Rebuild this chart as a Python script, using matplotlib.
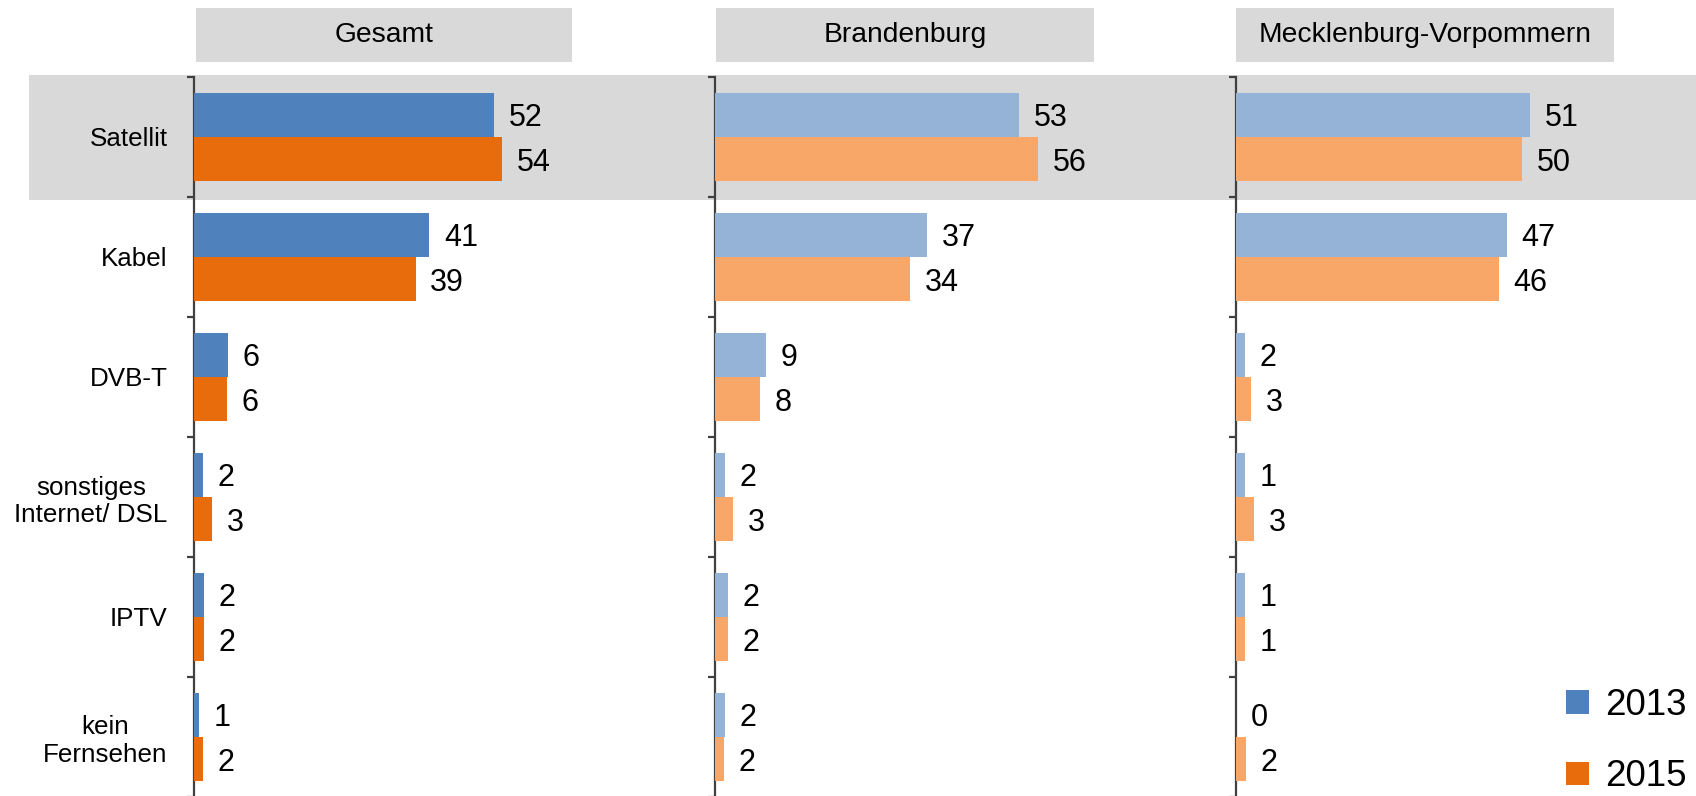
import matplotlib
matplotlib.use("Agg")
import matplotlib.pyplot as plt
from matplotlib.patches import Rectangle
from matplotlib.transforms import blended_transform_factory
import numpy as np

plt.rcParams['font.family'] = ['Liberation Sans', 'DejaVu Sans']

categories = ["Satellit", "Kabel", "DVB-T", "sonstiges\nInternet/ DSL", "IPTV", "kein\nFernsehen"]
panels = ["Gesamt", "Brandenburg", "Mecklenburg-Vorpommern"]
years = ["2013", "2015"]

# bar lengths and the printed labels
gesamt_2013 = [52.3, 41.0, 5.9, 1.5, 1.8, 0.9]
gesamt_2015 = [53.7, 38.6, 5.8, 3.1, 1.8, 1.6]
brb_2013 = [53.0, 37.0, 8.9, 1.7, 2.2, 1.7]
brb_2015 = [56.3, 34.0, 7.9, 3.2, 2.2, 1.6]
mv_2013 = [51.2, 47.2, 1.6, 1.5, 1.5, 0.0]
mv_2015 = [49.8, 45.8, 2.7, 3.1, 1.5, 1.7]

gesamt_lbl_2013 = [52, 41, 6, 2, 2, 1]
gesamt_lbl_2015 = [54, 39, 6, 3, 2, 2]
brb_lbl_2013 = [53, 37, 9, 2, 2, 2]
brb_lbl_2015 = [56, 34, 8, 3, 2, 2]
mv_lbl_2013 = [51, 47, 2, 1, 1, 0]
mv_lbl_2015 = [50, 46, 3, 3, 1, 2]

values = [(gesamt_2013, gesamt_2015), (brb_2013, brb_2015), (mv_2013, mv_2015)]
labels = [(gesamt_lbl_2013, gesamt_lbl_2015), (brb_lbl_2013, brb_lbl_2015), (mv_lbl_2013, mv_lbl_2015)]
colors = [("#4F81BD", "#E96C0C"), ("#95B3D7", "#F9A769"), ("#95B3D7", "#F9A769")]

W, H = 1696, 796
fig = plt.figure(figsize=(W / 100, H / 100), dpi=100)

ax_left_px = [194, 715, 1236]
ax_w_px = 470
px_per_unit = 5.74
top_px, bottom_px = 77, 797
gray = "#D9D9D9"
spine_c = "#404040"

header_boxes = [(196, 572), (716, 1094), (1236, 1614)]

y = np.arange(len(categories))
bh = 0.37
axes = []
for i, (name, (v13, v15), (l13, l15), (c13, c15)) in enumerate(zip(panels, values, labels, colors)):
    ax = fig.add_axes([ax_left_px[i] / W, (H - bottom_px) / H, ax_w_px / W, (bottom_px - top_px) / H])
    ax.patch.set_visible(False)
    b1 = ax.barh(y - bh / 2, v13, height=bh, color=c13, edgecolor="none", label=years[0], zorder=3)
    b2 = ax.barh(y + bh / 2, v15, height=bh, color=c15, edgecolor="none", label=years[1], zorder=3)
    for yy, v, l in zip(y - bh / 2, v13, l13):
        ax.annotate(str(l), (v, yy), xytext=(10.5, 0), textcoords="offset points",
                    ha="left", va="center_baseline", fontsize=22, zorder=4)
    for yy, v, l in zip(y + bh / 2, v15, l15):
        ax.annotate(str(l), (v, yy), xytext=(10.5, 0), textcoords="offset points",
                    ha="left", va="center_baseline", fontsize=22, zorder=4)
    ax.set_xlim(0, ax_w_px / px_per_unit)
    ax.set_ylim(len(categories) - 0.5, -0.5)
    for s in ["top", "right", "bottom"]:
        ax.spines[s].set_visible(False)
    ax.spines["left"].set_color(spine_c)
    ax.spines["left"].set_linewidth(1.6)
    ax.set_xticks([])
    ax.set_yticks(np.arange(-0.5, len(categories) + 0.5, 1.0))
    ax.set_yticklabels([])
    ax.tick_params(axis="y", which="major", length=5, width=1.6, color=spine_c, direction="out")
    if i == 0:
        ax.set_yticks(y, minor=True)
        ax.set_yticklabels(categories, minor=True, fontsize=18.7, multialignment="center")
        ax.tick_params(axis="y", which="minor", length=0, pad=19)
    axes.append((ax, b1, b2))

    # header box
    x0, x1 = header_boxes[i]
    fig.add_artist(Rectangle((x0 / W, (H - 62) / H), (x1 - x0) / W, 54 / H,
                             transform=fig.transFigure, facecolor=gray, edgecolor="none", zorder=0))
    fig.text((x0 + x1) / 2 / W, (H - 35) / H, name, ha="center", va="center", fontsize=20.3)

# Satellit highlight band across the whole figure
ax0 = axes[0][0]
tr = blended_transform_factory(fig.transFigure, ax0.transData)
fig.add_artist(Rectangle((29 / W, -0.517), 1 - 29 / W, 1.042, transform=tr,
                         facecolor=gray, edgecolor="none", zorder=0))

fig.legend(handles=[axes[0][1], axes[0][2]], labels=years, loc="center left",
           bbox_to_anchor=(1566 / W, 0.069), frameon=False, fontsize=26.5,
           handlelength=0.62, handleheight=0.62, handletextpad=0.45,
           labelspacing=1.0, borderpad=0, borderaxespad=0)

fig.savefig("out.png", dpi=100)
